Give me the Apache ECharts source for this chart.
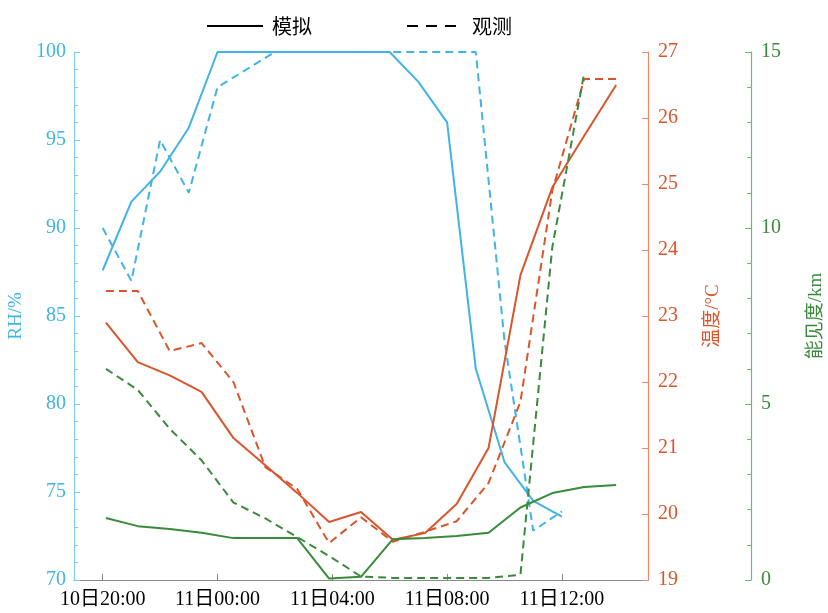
<!DOCTYPE html>
<html><head><meta charset="utf-8">
<script src="https://cdn.jsdelivr.net/npm/echarts@6/dist/echarts.min.js"></script>
<style>html,body{margin:0;padding:0;background:#fff}#c{width:828px;height:613px}</style>
</head><body><div id="c"></div>
<script>
// time categories (hourly, 10日19:00 .. 11日15:00)
var timeLabels = ['10日19:00','10日20:00','10日21:00','10日22:00','10日23:00','11日00:00','11日01:00','11日02:00','11日03:00','11日04:00','11日05:00','11日06:00','11日07:00','11日08:00','11日09:00','11日10:00','11日11:00','11日12:00','11日13:00','11日14:00','11日15:00'];
var shownLabels = ['10日20:00','11日00:00','11日04:00','11日08:00','11日12:00'];
// RH (%), 20:00 .. 12:00
var rhModel = [87.6, 91.5, 93.2, 95.7, 100, 100, 100, 100, 100, 100, 100, 98.3, 96.0, 82.0, 76.7, 74.5, 73.6];
var rhObs   = [90.0, 87.0, 95.0, 92.0, 98.0, 99.0, 100, 100, 100, 100, 100, 100, 100, 100, 83.6, 72.8, 73.9];
// temperature (°C), 17 samples
var tempModel = [22.9, 22.3, 22.1, 21.85, 21.15, 20.74, 20.32, 19.88, 20.03, 19.61, 19.71, 20.15, 21.0, 23.62, 24.95, 25.73, 26.5];
var tempObs   = [23.38, 23.38, 22.47, 22.59, 22.0, 20.71, 20.38, 19.56, 19.95, 19.58, 19.73, 19.89, 20.47, 21.7, 24.9, 26.59, 26.59];
// visibility (km), 17 samples
var visModel = [1.76, 1.53, 1.45, 1.34, 1.19, 1.19, 1.19, 0.04, 0.09, 1.16, 1.19, 1.25, 1.34, 2.06, 2.47, 2.64, 2.70];
var visObs   = [6.0, 5.4, 4.3, 3.4, 2.2, 1.75, 1.22, 0.68, 0.1, 0.06, 0.06, 0.06, 0.06, 0.15, 9.46, 14.4, null];

var BLUE = '#3fb4e5', ORANGE = '#d9552b', GREEN = '#3a8a3c';
var SERIF = "'Liberation Serif','Noto Sans CJK SC',serif";

function padRH(arr){ var r=[null]; arr.forEach(function(v){r.push(v);}); while(r.length<timeLabels.length) r.push(null); return r; }
function idx(arr){ var r=[]; arr.forEach(function(v,i){ if(v!==null) r.push([i,v]); }); return r; }
function showIdx(i, v){ return shownLabels.indexOf(timeLabels[i]) >= 0; }
var DASH = [8,5];

var chart = echarts.init(document.getElementById('c'));
chart.setOption({
  animation:false,
  backgroundColor:'#fff',
  grid:{left:74, right:180, top:52, bottom:33, containLabel:false, outerBoundsMode:'none'},
  legend:{
    top:11, left:201, itemWidth:56, itemHeight:14, itemGap:94,
    itemStyle:{opacity:0},
    textStyle:{color:'#000', fontSize:20, fontFamily:"'Noto Sans CJK SC',sans-serif", padding:[0,0,0,4]},
    data:['模拟','观测']
  },
  xAxis:[
    {type:'category', data:timeLabels, boundaryGap:false,
     axisLine:{onZero:false, lineStyle:{color:'#888', width:1.2}},
     axisTick:{inside:true, length:6, interval:showIdx, lineStyle:{color:'#888'}},
     axisLabel:{interval:showIdx, color:'#000', fontSize:20, fontFamily:SERIF, margin:10},
     splitLine:{show:false}},
    {type:'value', min:-1, max:17, show:false}
  ],
  yAxis:[
    {type:'value', min:70, max:100, interval:5, position:'left',
     name:'RH/%', nameLocation:'middle', nameGap:42, nameRotate:90,
     nameTextStyle:{color:BLUE, fontSize:19, fontFamily:SERIF},
     axisLine:{show:true, onZero:false, lineStyle:{color:'#7fcdf0', width:1.2}},
     axisTick:{show:true, inside:true, length:6, lineStyle:{color:'#7fcdf0'}},
     minorTick:{show:true, splitNumber:5, length:4, lineStyle:{color:'#7fcdf0'}},
     axisLabel:{color:BLUE, fontSize:20, fontFamily:SERIF, margin:8},
     splitLine:{show:false}},
    {type:'value', min:19, max:27, interval:1, position:'right',
     name:'温度/°C', nameLocation:'middle', nameGap:56, nameRotate:90,
     nameTextStyle:{color:ORANGE, fontSize:19, fontFamily:SERIF},
     axisLine:{show:true, onZero:false, lineStyle:{color:'#ee8a6a', width:1.2}},
     axisTick:{show:true, inside:true, length:6, lineStyle:{color:'#ee8a6a'}},
     axisLabel:{color:ORANGE, fontSize:20, fontFamily:SERIF, margin:10},
     splitLine:{show:false}},
    {type:'value', min:0, max:15, interval:5, position:'right', offset:103,
     name:'能见度/km', nameLocation:'middle', nameGap:56, nameRotate:90,
     nameTextStyle:{color:GREEN, fontSize:19, fontFamily:SERIF},
     axisLine:{show:true, onZero:false, lineStyle:{color:'#6bbd6b', width:1.2}},
     axisTick:{show:true, inside:true, length:6, lineStyle:{color:'#6bbd6b'}},
     minorTick:{show:true, splitNumber:5, length:4, lineStyle:{color:'#6bbd6b'}},
     axisLabel:{color:GREEN, fontSize:20, fontFamily:SERIF, margin:10},
     splitLine:{show:false}}
  ],
  series:[
    {name:'模拟', type:'line', data:[], symbol:'none', color:'#000', lineStyle:{color:'#000', width:2.5, type:'solid'}},
    {name:'观测', type:'line', data:[], symbol:'none', color:'#000', lineStyle:{color:'#000', width:2.5, type:[11,8]}},
    {type:'line', xAxisIndex:0, yAxisIndex:0, data:padRH(rhModel), symbol:'none', lineStyle:{color:BLUE, width:2}},
    {type:'line', xAxisIndex:0, yAxisIndex:0, data:padRH(rhObs), symbol:'none', lineStyle:{color:BLUE, width:2, type:DASH}},
    {type:'line', xAxisIndex:1, yAxisIndex:1, data:idx(tempModel), symbol:'none', lineStyle:{color:ORANGE, width:2}},
    {type:'line', xAxisIndex:1, yAxisIndex:1, data:idx(tempObs), symbol:'none', lineStyle:{color:ORANGE, width:2, type:DASH}},
    {type:'line', xAxisIndex:1, yAxisIndex:2, data:idx(visModel), symbol:'none', lineStyle:{color:GREEN, width:2}},
    {type:'line', xAxisIndex:1, yAxisIndex:2, data:idx(visObs), symbol:'none', lineStyle:{color:GREEN, width:2, type:DASH}}
  ]
});
</script></body></html>
